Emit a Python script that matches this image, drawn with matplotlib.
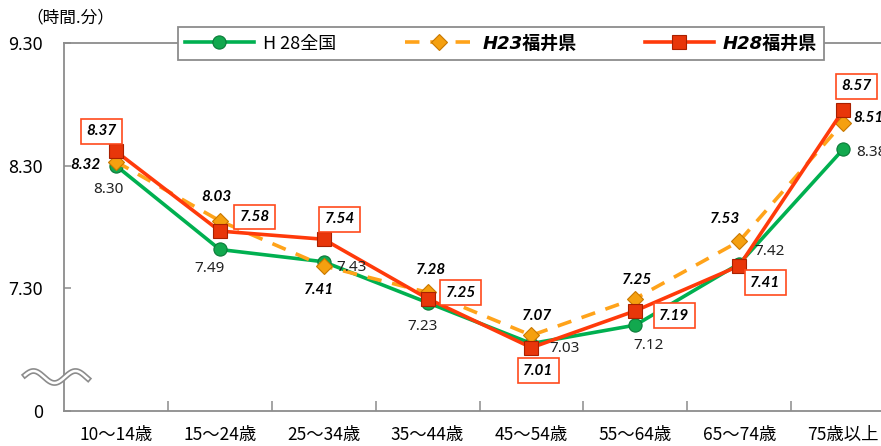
import matplotlib
matplotlib.use('Agg')
import matplotlib.pyplot as plt
import numpy as np

plt.rcParams['font.family'] = ['Noto Sans CJK JP', 'DejaVu Sans']

# data (hours.minutes as printed on the chart)
ages = ['10～14歳', '15～24歳', '25～34歳', '35～44歳',
        '45～54歳', '55～64歳', '65～74歳', '75歳以上']
zenkoku_h28 = ['8.30', '7.49', '7.43', '7.23', '7.03', '7.12', '7.42', '8.38']
fukui_h23 = ['8.32', '8.03', '7.41', '7.28', '7.07', '7.25', '7.53', '8.51']
fukui_h28 = ['8.37', '7.58', '7.54', '7.25', '7.01', '7.19', '7.41', '8.57']
series_names = ['H 28全国', 'H23福井県', 'H28福井県']
ytick_vals = ['6.30', '7.30', '8.30', '9.30']
ytick_labels = ['0', '7.30', '8.30', '9.30']


def to_min(s):
    h, m = s.split('.')
    return int(h) * 60 + int(m)


x = np.arange(len(ages))
g = [to_min(v) for v in zenkoku_h28]
o = [to_min(v) for v in fukui_h23]
r = [to_min(v) for v in fukui_h28]

# label offsets in pixels (dx right, dy down)
g_off = [(-8, 24), (-10, 19), (28, 6), (-5, 24), (33, 5), (13, 20), (30, -12), (28, 3)]
o_off = [(-30, 3), (-3, -24), (-5, 24), (3, -22), (6, -19), (2, -19), (-14, -22), (25, -5)]
r_off = [(-14, -20), (35, -14), (16, -20), (33, -6), (7, 23), (39, 5), (26, 17), (13, -24)]

GREEN = '#00B050'
ORANGE = '#FFA31A'
RED = '#FF3A0A'

fig = plt.figure(figsize=(8.81, 4.46), dpi=100)
ax = fig.add_axes([64 / 881, 1 - 411 / 446, 831 / 881, 368 / 446])

ax.plot(x, g, color=GREEN, lw=2.6, marker='o', ms=9.5, mfc='#12A84E',
        mec='#0A7A38', mew=0.8, zorder=3, label=series_names[0])
ax.plot(x, o, color=ORANGE, lw=2.6, ls=(0, (4, 3)), marker='D', ms=8,
        mfc='#F5A00F', mec='#C87800', mew=0.8, zorder=4, label=series_names[1])
ax.plot(x, r, color=RED, lw=2.6, marker='s', ms=9.5, mfc='#E8360A',
        mec='#A82000', mew=0.8, zorder=5, label=series_names[2])

num_font = ['Lato', 'DejaVu Sans']
for i in range(len(x)):
    dx, dy = g_off[i]
    ax.annotate(zenkoku_h28[i], (x[i], g[i]), xytext=(dx, -dy),
                textcoords='offset pixels', ha='center', va='center',
                fontsize=11, family=['Noto Sans', 'DejaVu Sans'], color='#222222', zorder=6)
    dx, dy = o_off[i]
    ax.annotate(fukui_h23[i], (x[i], o[i]), xytext=(dx, -dy),
                textcoords='offset pixels', ha='center', va='center',
                fontsize=11, family=num_font, fontweight='bold', style='italic',
                color='black', zorder=6)
    dx, dy = r_off[i]
    ax.annotate(fukui_h28[i], (x[i], r[i]), xytext=(dx, -dy),
                textcoords='offset pixels', ha='center', va='center',
                fontsize=11, family=num_font, fontweight='bold', style='italic',
                color='black', zorder=7,
                bbox=dict(boxstyle='square,pad=0.35', fc='white', ec='#FF4A1C', lw=1.2))

ax.set_xlim(-0.5, 7.5)
ax.set_ylim(to_min('6.30'), to_min('9.30'))
ax.set_yticks([to_min(v) for v in ytick_vals])
ax.set_yticklabels(ytick_labels, fontsize=12.5, family=['Noto Sans', 'DejaVu Sans'])
ax.set_xticks(x)
ax.set_xticklabels(ages, fontsize=12.5)
ax.set_xticks(np.arange(0.5, 7.5, 1), minor=True)
ax.tick_params(axis='x', which='major', length=0, pad=11)
ax.tick_params(axis='x', which='minor', direction='in', length=7, color='#8C8C8C', width=1.1)
ax.tick_params(axis='y', direction='in', length=5, color='#8C8C8C', width=1.1, pad=15)
for s in ['left', 'bottom', 'top']:
    ax.spines[s].set_color('#8C8C8C')
    ax.spines[s].set_linewidth(1.3)
ax.spines['right'].set_visible(False)

# axis break mark
wx = np.linspace(25, 88, 200)
wy = 377 - 6 * np.sin((wx - 25) / 63 * 3 * np.pi + 0.3)
fx = wx / 881
fy = 1 - wy / 446
fig.add_artist(plt.Line2D(fx, fy, color='#8C8C8C', lw=4.2, transform=fig.transFigure, zorder=8))
fig.add_artist(plt.Line2D(fx, fy, color='white', lw=1.8, transform=fig.transFigure, zorder=9))

fig.text(70 / 881, 1 - 18 / 446, '（時間.分）', ha='center', va='center', fontsize=12)

leg = ax.legend(loc='center', bbox_to_anchor=(501 / 881, 1 - 43.5 / 446),
                bbox_transform=fig.transFigure, ncol=3, frameon=True,
                fancybox=False, edgecolor='#8C8C8C', framealpha=1,
                handlelength=3.8, handletextpad=0.5, columnspacing=3.8,
                borderpad=0.4, fontsize=13)
leg.get_frame().set_linewidth(1.3)
for i, t in enumerate(leg.get_texts()):
    if i == 0:
        t.set_fontweight('normal')
    else:
        t.set_fontweight('bold')
        t.set_fontstyle('italic')
        t.set_family(['DejaVu Sans', 'Noto Sans CJK JP'])

plt.savefig('out.png', dpi=100)
